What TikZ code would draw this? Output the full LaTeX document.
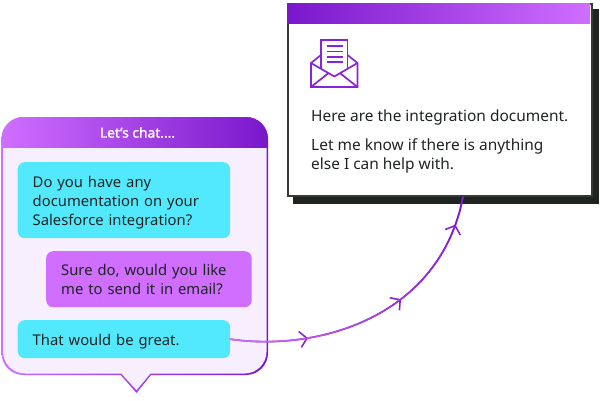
\documentclass[tikz,border=0pt]{standalone}
\usepackage{fontspec}
\setmainfont{Noto Sans}
\newfontfamily\titlefont[FakeBold=1.3]{Noto Sans}
\usetikzlibrary{arrows.meta,decorations.markings,calc}
\definecolor{ink}{HTML}{1F2421}
\definecolor{pdark}{HTML}{7A17CC}
\definecolor{plight}{HTML}{CF6EFF}
\definecolor{pale}{HTML}{F8EFFE}
\definecolor{cyanb}{HTML}{52E9FF}
\definecolor{iconp}{HTML}{8A23D6}
\newcommand{\chatshape}[1]{%
  (120.7,375-#1) [rounded corners=22pt] -- (1.5+#1,375-#1) -- (1.5+#1,117+#1) -- (268-#1,117+#1) -- (268-#1,375-#1) -- (170,375-#1) [sharp corners] -- (151-#1*0.4,375-#1) -- (136.5,393-#1*1.9) -- (120.7+#1*0.4,375-#1) -- cycle}
\newcommand{\topfix}{\rule{0pt}{17pt}}
\newcommand{\topfixb}{\rule{0pt}{12pt}}
\tikzset{
  bubble/.style={rounded corners=7pt,inner sep=0pt,anchor=north west,align=left,text=ink,font=\fontsize{14.8}{19}\selectfont},
  cardtext/.style={anchor=north west,inner sep=0pt,align=left,text=ink,font=\fontsize{15.45}{19.5}\selectfont},
  icon/.style={draw=iconp,line width=1.7pt,line join=miter},
  conn/.style={draw=iconp,line width=1.6pt},
  barbs/.style={postaction={decorate,decoration={markings,
     mark=at position 0.258 with {\arrow[line width=1.6pt]{Straight Barb[length=7pt,width=16pt]}},
     mark=at position 0.595 with {\arrow[line width=1.6pt]{Straight Barb[length=7pt,width=16pt]}},
     mark=at position 0.905 with {\arrow[line width=1.6pt]{Straight Barb[length=7pt,width=16pt]}}}}}
}
\begin{document}
\begin{tikzpicture}[x=1pt,y=-1pt]
\useasboundingbox (0,0) rectangle (600,400);
% card
\node[fill=ink,minimum width=306pt,minimum height=195pt,inner sep=0pt,anchor=north west] (shadow) at (293,9) {};
\node[draw=ink!90!white,line width=2pt,fill=white,minimum width=304pt,minimum height=192.5pt,inner sep=0pt,anchor=north west] (card) at (286.5,2.8) {};
\shade[left color=pdark,right color=plight] (287,3.5) rectangle (590,23);
% envelope icon
\draw[icon] (321,40) -- (347.5,40);
\draw[icon] (321,39.2) -- (321,69);
\draw[icon] (347.5,39.2) -- (347.5,69);
\draw[icon,line width=1.5pt] (326.5,46) -- (342.5,46) (326.5,51.5) -- (342.5,51.5) (326.5,57) -- (342.5,57) (326.5,62) -- (342.5,62);
\draw[icon] (321,55) -- (311,63) -- (311,87) -- (357.5,87) -- (357.5,63) -- (347.5,55);
\draw[icon] (311,63) -- (334.3,76.5) -- (357.5,63);
\draw[icon] (311,87) -- (328,73.5) (357.5,87) -- (340.5,73.5);
% card text
\node[cardtext] (t1) at (311,110) {Here are the integration document.};
\node[cardtext] (t2) at (311,138) {Let me know if there is anything\\else I can help with.};
% chat panel
\shade[left color=plight,right color=pdark] \chatshape{0};
\fill[pale] \chatshape{1.5};
\begin{scope}
\clip \chatshape{0};
\shade[left color=plight,right color=pdark] (1.5,117) rectangle (268,147);
\end{scope}
\node[text=white,font=\titlefont\fontsize{13.8}{15}\selectfont,inner sep=0pt] (title) at (137.5,132.5) {Let’s chat....};
% bubbles
\node[bubble,fill=cyanb,minimum width=212.5pt,minimum height=76pt,text width=182.5pt,inner xsep=15pt] (b1) at (17.5,162) {\topfix Do you have any\\documentation on your\\Salesforce integration?};
\node[bubble,fill=plight,minimum width=205.5pt,minimum height=56pt,text width=175.5pt,inner xsep=15pt] (b2) at (46,251) {\topfixb Sure do, would you like\\me to send it in email?};
\node[bubble,fill=cyanb,minimum width=212.5pt,minimum height=38pt,text width=182.5pt,inner xsep=15pt] (b3) at (17.5,320) {\topfix That would be great.};
% connector
\coordinate (foot) at (463,197);
\coordinate (ca) at (320,352);
\coordinate (cb) at (440,316);
\draw[conn,barbs] (b3.east) .. controls (ca) and (cb) .. (foot);
\foreach \i in {0,...,23}{
  \pgfmathsetmacro{\ta}{\i/24}
  \pgfmathsetmacro{\tb}{(\i+1)/24}
  \pgfmathtruncatemacro{\mixv}{100*(\i+0.5)/24}
  \coordinate (qa) at ($($($(b3.east)!\ta!(ca)$)!\ta!($(ca)!\ta!(cb)$)$)!\ta!($($(ca)!\ta!(cb)$)!\ta!($(cb)!\ta!(foot)$)$)$);
  \coordinate (qb) at ($($($(b3.east)!\tb!(ca)$)!\tb!($(ca)!\tb!(cb)$)$)!\tb!($($(ca)!\tb!(cb)$)!\tb!($(cb)!\tb!(foot)$)$)$);
  \draw[line width=1.6pt,line cap=round,draw=pdark!\mixv!plight] (qa) -- (qb);
}
\end{tikzpicture}
\end{document}
